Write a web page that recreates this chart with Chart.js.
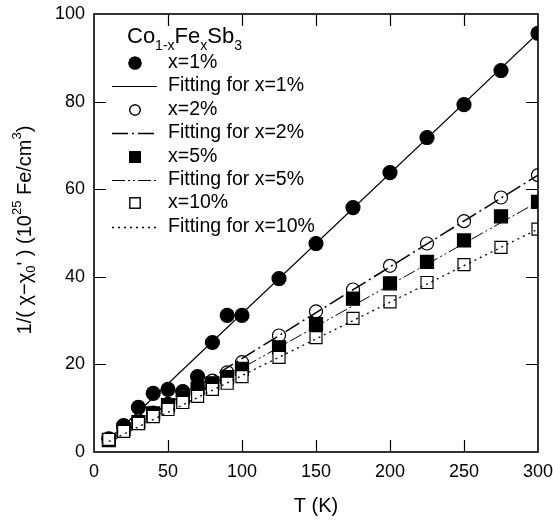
<!DOCTYPE html>
<html>
<head>
<meta charset="utf-8">
<script src="https://cdn.jsdelivr.net/npm/chart.js@4.4.0/dist/chart.umd.min.js"></script>
<style>
  html, body { margin: 0; padding: 0; background: #fff; }
  #wrap { width: 553px; height: 522px; }
</style>
</head>
<body>
<div id="wrap"><canvas id="chart"></canvas></div>
<script>
// temperatures (K)
var temps = [10, 20, 30, 40, 50, 60, 70, 80, 90, 100, 125, 150, 175, 200, 225, 250, 275, 300];
// 1/(chi - chi0') in 10^25 Fe/cm^3
var x1 = [3.0, 6.0, 10.2, 13.4, 14.3, 13.8, 17.2, 25.0, 31.2, 31.2, 39.6, 47.6, 55.8, 63.8, 71.8, 79.3, 87.1, 95.6];
var x2 = [3.0, 5.5, 7.2, 9.0, 11.0, 12.8, 14.6, 16.3, 18.2, 20.5, 26.6, 32.1, 37.1, 42.5, 47.6, 52.7, 58.1, 63.2];
var x5 = [2.7, 5.2, 6.8, 8.8, 10.7, 12.5, 14.5, 15.7, 17.1, 19.0, 23.9, 29.2, 35.0, 38.5, 43.4, 48.3, 53.8, 57.1];
var x10 = [2.9, 4.7, 6.5, 8.1, 9.7, 11.3, 12.7, 14.3, 15.7, 17.2, 21.6, 26.1, 30.5, 34.3, 38.7, 42.8, 46.7, 50.9];
// linear fits (end points)
var fitT = [10, 300];
var fit1 = [2.8, 95.6];
var fit2 = [2.5, 63.2];
var fit5 = [2.1, 57.1];
var fit10 = [2.4, 50.9];

var xTicks = [0, 50, 100, 150, 200, 250, 300];
var yTicks = [0, 20, 40, 60, 80, 100];
var legendLabels = ["x=1%", "Fitting for x=1%", "x=2%", "Fitting for x=2%",
                    "x=5%", "Fitting for x=5%", "x=10%", "Fitting for x=10%"];

var FONT = "'Liberation Sans', Arial, Helvetica, sans-serif";

function pts(xs, ys) {
    return xs.map(function(x, i) { return {x: x, y: ys[i]}; });
}

function marks(data, style, radius, legendRadius, fill, order) {
    return {
        data: pts(temps, data), showLine: false, pointStyle: style,
        pointRadius: radius, pointHoverRadius: radius, legendRadius: legendRadius,
        pointBackgroundColor: fill, pointBorderColor: "#000",
        pointBorderWidth: 1.2, order: order
    };
}

function fit(data, dash, width, order) {
    return {
        data: pts(fitT, data), showLine: true, pointRadius: 0,
        borderColor: "#000", borderWidth: width, borderDash: dash,
        fill: false, order: order
    };
}

var datasets = [
    marks(x1, "circle", 7, 6, "#000", 8),
    fit(fit1, [], 1.2, 7),
    marks(x2, "circle", 6.5, 5.2, "#fff", 6),
    fit(fit2, [16, 4, 2, 4], 1.5, 5),
    marks(x5, "rect", 9.2, 7.5, "#000", 4),
    fit(fit5, [13, 3, 2, 3, 2, 3], 1, 3),
    marks(x10, "rect", 8.5, 7.2, "#fff", 2),
    fit(fit10, [2, 4], 1.3, 1)
];
datasets.forEach(function(d, i) { d.label = legendLabels[i]; });

// draws rich text pieces: level 0 normal, -1 subscript, 1 superscript
function richText(ctx, parts, size, x, y, align) {
    var small = Math.round(size * 0.65);
    var total = 0;
    parts.forEach(function(p) {
        ctx.font = (p[1] ? small : size) + "px " + FONT;
        p.w = ctx.measureText(p[0]).width;
        total += p.w;
    });
    var cx = align === "center" ? x - total / 2 : x;
    parts.forEach(function(p) {
        ctx.font = (p[1] ? small : size) + "px " + FONT;
        var dy = p[1] === -1 ? size * 0.3 : (p[1] === 1 ? -size * 0.4 : 0);
        ctx.fillText(p[0], cx, y + dy);
        cx += p.w;
    });
}

var framePlugin = {
    id: "frame",
    afterDraw: function(chart) {
        var ctx = chart.ctx, a = chart.chartArea;
        var xs = chart.scales.x, ys = chart.scales.y;
        ctx.save();
        ctx.strokeStyle = "#000";
        ctx.lineWidth = 1.6;
        ctx.strokeRect(a.left, a.top, a.right - a.left, a.bottom - a.top);
        ctx.lineWidth = 1.2;
        ctx.beginPath();
        xTicks.slice(1, -1).forEach(function(v) {
            var px = Math.round(xs.getPixelForValue(v)) + 0.5;
            ctx.moveTo(px, a.bottom); ctx.lineTo(px, a.bottom - 12);
            ctx.moveTo(px, a.top); ctx.lineTo(px, a.top + 12);
        });
        yTicks.slice(1, -1).forEach(function(v) {
            var py = Math.round(ys.getPixelForValue(v)) + 0.5;
            ctx.moveTo(a.left, py); ctx.lineTo(a.left + 12, py);
            ctx.moveTo(a.right, py); ctx.lineTo(a.right - 12, py);
        });
        ctx.stroke();

        // axis titles
        ctx.fillStyle = "#000";
        ctx.textBaseline = "middle";
        ctx.textAlign = "center";
        ctx.font = "20px " + FONT;
        ctx.fillText("T (K)", (a.left + a.right) / 2, 506);
        ctx.save();
        ctx.translate(25, 230);
        ctx.rotate(-Math.PI / 2);
        ctx.textAlign = "left";
        richText(ctx, [["1/( \u03C7\u2212\u03C7", 0], ["0", -1], ["' ) (10", 0], ["25", 1],
                       [" Fe/cm", 0], ["3", 1], [")", 0]], 20, 0, 0, "center");
        ctx.restore();

        // legend
        ctx.textAlign = "left";
        ctx.textBaseline = "alphabetic";
        richText(ctx, [["Co", 0], ["1-x", -1], ["Fe", 0], ["x", -1], ["Sb", 0], ["3", -1]],
                 22, 127, 43, "left");
        ctx.textBaseline = "middle";
        var rowY = [63, 86, 110, 133, 157, 180, 203, 227];
        chart.data.datasets.forEach(function(d, i) {
            var y = rowY[i];
            ctx.save();
            if (d.showLine) {
                ctx.strokeStyle = "#000";
                ctx.lineWidth = d.borderWidth;
                ctx.setLineDash(d.borderDash);
                ctx.beginPath();
                ctx.moveTo(112, y + 0.5); ctx.lineTo(157, y + 0.5);
                ctx.stroke();
            } else {
                Chart.helpers.drawPoint(ctx, {
                    pointStyle: d.pointStyle, radius: d.legendRadius,
                    borderWidth: d.pointBorderWidth
                }, 135, y);
                ctx.fillStyle = d.pointBackgroundColor;
                ctx.strokeStyle = "#000";
                ctx.lineWidth = d.pointBorderWidth;
                ctx.fill();
                ctx.stroke();
            }
            ctx.restore();
            ctx.fillStyle = "#000";
            ctx.font = "19.5px " + FONT;
            ctx.fillText(d.label, 168, y);
        });
        ctx.restore();
    }
};

function noEdgePadding(s) {
    s.paddingLeft = 0; s.paddingRight = 0;
    s.paddingTop = 0; s.paddingBottom = 0;
}

var ctx = document.getElementById("chart");
var chart = new Chart(ctx, {
    type: "scatter",
    data: { datasets: datasets },
    options: {
        responsive: true,
        maintainAspectRatio: false,
        devicePixelRatio: 1,
        animation: false,
        layout: { padding: { top: 14, right: 15, left: 0, bottom: 0 } },
        plugins: { legend: { display: false }, tooltip: { enabled: false } },
        elements: { line: { tension: 0 } },
        scales: {
            x: {
                type: "linear", min: 0, max: 300,
                afterBuildTicks: function(s) { s.ticks = xTicks.map(function(v) { return {value: v}; }); },
                afterFit: function(s) { s.height = 70; noEdgePadding(s); },
                grid: { display: false, drawTicks: false },
                border: { display: false },
                ticks: { color: "#000", padding: 9, maxRotation: 0,
                         font: { family: FONT, size: 18 } }
            },
            y: {
                type: "linear", min: 0, max: 100,
                afterBuildTicks: function(s) { s.ticks = yTicks.map(function(v) { return {value: v}; }); },
                afterFit: function(s) { s.width = 94; noEdgePadding(s); },
                grid: { display: false, drawTicks: false },
                border: { display: false },
                ticks: { color: "#000", padding: 9,
                         font: { family: FONT, size: 18 } }
            }
        }
    },
    plugins: [framePlugin]
});
</script>
</body>
</html>
